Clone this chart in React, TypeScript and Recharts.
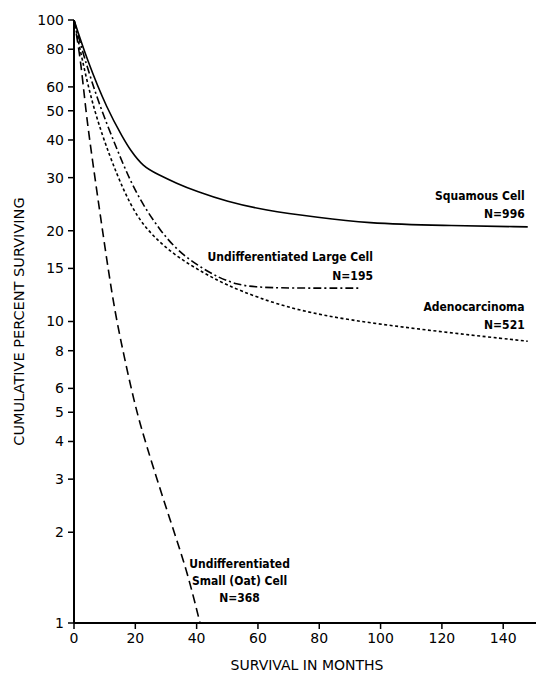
import { LineChart, Line, XAxis, YAxis, ReferenceDot } from 'recharts';

// survival curves: [month, cumulative percent surviving]
const squamous = [
  [0, 100], [4.2, 74], [10.9, 50.3], [16.1, 40.5], [18.3, 37.1], [22.6, 32.6], [27, 30.9],
  [33.5, 28.7], [40, 27.0], [49.8, 25.0], [62, 23.4], [80, 22.1], [95, 21.2], [120, 20.8], [148, 20.6],
];
const largeCell = [
  [0, 100], [3, 77], [8, 53], [13.9, 37.5], [18.3, 29.3], [22.6, 24.3], [28, 20.1],
  [33.5, 17.3], [40, 15.4], [47.6, 13.9], [53, 13.3], [58.5, 13.0], [70, 12.9], [93.5, 12.9],
];
const adeno = [
  [0, 100], [2.5, 75], [6.5, 50], [11.7, 35.2], [16.1, 27.3], [20.5, 22.3], [25.9, 19.1],
  [33.5, 16.4], [42.2, 14.5], [49.8, 13.2], [60, 12], [72.7, 10.9], [90, 10.1], [110, 9.5],
  [130, 9.0], [148, 8.6],
];
const smallCell = [
  [0, 100], [2.2, 73.7], [3.8, 50.3], [6, 34.3], [8.8, 21.7], [11.2, 14.8], [13.4, 10.7],
  [16.1, 7.87], [18.8, 5.9], [21.5, 4.57], [25.9, 3.27], [31.3, 2.2], [36.8, 1.5], [41.1, 1.0],
];

const monthTicks = [0, 20, 40, 60, 80, 100, 120, 140];
const percentTicks = [1, 2, 3, 4, 5, 6, 8, 10, 15, 20, 30, 40, 50, 60, 80, 100];

// curve labels: text, month, percent, anchor
const notes: [string, number, number, string][] = [
  ['Squamous Cell', 147, 25.3, 'end'],
  ['N=996', 147, 22.0, 'end'],
  ['Undifferentiated Large Cell', 97.5, 15.9, 'end'],
  ['N=195', 97.5, 13.7, 'end'],
  ['Adenocarcinoma', 147, 10.8, 'end'],
  ['N=521', 147, 9.44, 'end'],
  ['Undifferentiated', 54, 1.52, 'middle'],
  ['Small (Oat) Cell', 54, 1.34, 'middle'],
  ['N=368', 54, 1.17, 'middle'],
];

const toPoints = (rows: number[][]) => rows.map(([month, pct]) => ({ month, pct }));

const font = '"DejaVu Sans", sans-serif';
const noteFont = '"DejaVu Sans Condensed", "DejaVu Sans", sans-serif';
const tickStyle = { fill: '#000', fontSize: 14, fontFamily: font };

const App = () => {
  return (
    <LineChart width={536} height={666} margin={{ top: 12, right: 4, bottom: 0, left: 0 }}>
      <XAxis
        type="number"
        dataKey="month"
        domain={[0, 152]}
        ticks={monthTicks}
        interval={0}
        height={51}
        tickSize={6}
        tickMargin={4}
        tick={tickStyle}
        axisLine={{ stroke: '#000', strokeWidth: 2 }}
        tickLine={{ stroke: '#000', strokeWidth: 1.5 }}
        label={{
          value: 'SURVIVAL IN MONTHS',
          position: 'insideBottom',
          offset: 4,
          style: { fill: '#000', fontSize: 14, fontFamily: font },
        }}
      />
      <YAxis
        type="number"
        dataKey="pct"
        scale="log"
        domain={[1, 100]}
        allowDataOverflow
        ticks={percentTicks}
        interval={0}
        width={66}
        tickSize={6}
        tickMargin={4}
        tick={tickStyle}
        axisLine={{ stroke: '#000', strokeWidth: 2 }}
        tickLine={{ stroke: '#000', strokeWidth: 1.5 }}
        label={{
          value: 'CUMULATIVE PERCENT SURVIVING',
          angle: -90,
          position: 'insideLeft',
          offset: 11,
          style: { fill: '#000', fontSize: 14.5, fontFamily: font, textAnchor: 'middle' },
        }}
      />
      <Line data={toPoints(squamous)} dataKey="pct" type="basis" stroke="#000" strokeWidth={1.6} dot={false} isAnimationActive={false} />
      <Line data={toPoints(largeCell)} dataKey="pct" type="basis" stroke="#000" strokeWidth={1.6} strokeDasharray="8 3 2 3" dot={false} isAnimationActive={false} />
      <Line data={toPoints(adeno)} dataKey="pct" type="basis" stroke="#000" strokeWidth={1.6} strokeDasharray="3 2.5" dot={false} isAnimationActive={false} />
      <Line data={toPoints(smallCell)} dataKey="pct" type="basis" stroke="#000" strokeWidth={1.6} strokeDasharray="9 5" dot={false} isAnimationActive={false} />
      {notes.map(([text, month, pct, anchor]) => (
        <ReferenceDot
          key={text}
          x={month}
          y={pct}
          r={1}
          shape={(p: any) => (
            <text x={p.cx} y={p.cy} textAnchor={anchor} fontSize={12} fontWeight="bold" fontFamily={noteFont} fill="#000">
              {text}
            </text>
          )}
        />
      ))}
    </LineChart>
  );
};

export default App;
